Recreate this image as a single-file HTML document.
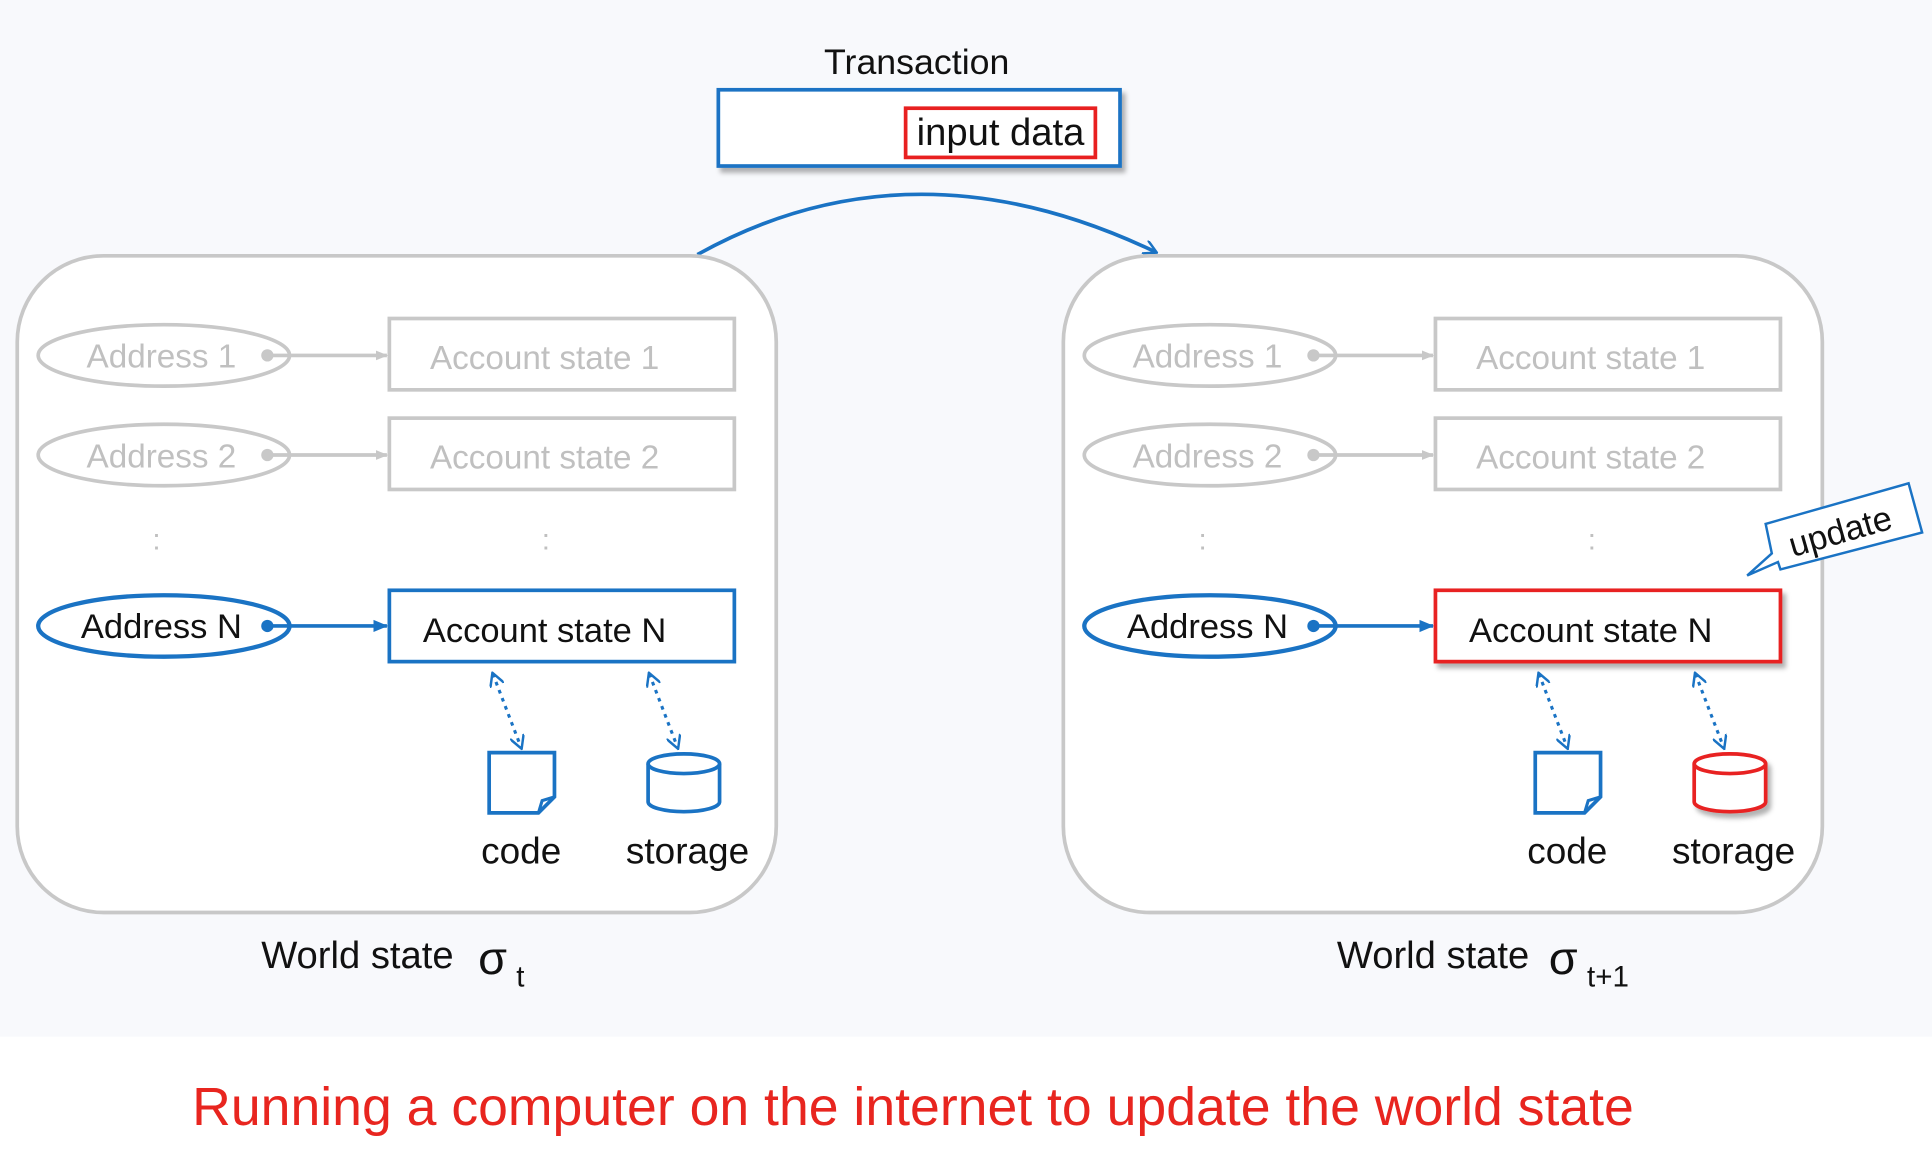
<!DOCTYPE html>
<html><head><meta charset="utf-8"><style>
html,body{margin:0;padding:0;background:#fff;}
svg{display:block;font-family:"Liberation Sans",Arial,sans-serif;}
</style></head><body>
<svg width="1932" height="1156" viewBox="0 0 1568 940" preserveAspectRatio="none" xmlns="http://www.w3.org/2000/svg">
<defs>
<marker id="ag" markerWidth="10" markerHeight="10" refX="9" refY="5" orient="auto" markerUnits="userSpaceOnUse"><path d="M0,1 L10,5 L0,9 z" fill="#c8c8c8"/></marker>
<marker id="ab" markerWidth="12" markerHeight="12" refX="11" refY="6" orient="auto" markerUnits="userSpaceOnUse"><path d="M0,1 L12,6 L0,11 z" fill="#1a73c4"/></marker>
<marker id="ad" markerWidth="12" markerHeight="12" refX="10" refY="6" orient="auto" markerUnits="userSpaceOnUse"><path d="M0,0 L11,6 L0,12" fill="none" stroke="#1a73c4" stroke-width="2"/></marker>
<marker id="ad0" markerWidth="12" markerHeight="12" refX="10" refY="6" orient="auto-start-reverse" markerUnits="userSpaceOnUse"><path d="M0,0 L11,6 L0,12" fill="none" stroke="#1a73c4" stroke-width="2"/></marker>
<filter id="sh" x="-10%" y="-10%" width="130%" height="140%"><feDropShadow dx="3" dy="4" stdDeviation="2" flood-color="#000" flood-opacity="0.3"/></filter>
</defs>
<rect x="0" y="0" width="1568" height="843" fill="#f8f9fc"/>
<text x="744" y="60" font-size="29" text-anchor="middle" fill="#111">Transaction</text>
<rect x="583" y="73" width="326" height="62" fill="#fff" stroke="#1a73c4" stroke-width="3" filter="url(#sh)"/>
<rect x="735" y="88" width="154" height="40" fill="#fff" stroke="#e82020" stroke-width="3"/>
<text x="812" y="118" font-size="31" text-anchor="middle" fill="#111">input data</text>
<path d="M566,207 Q740,110 938,205" fill="none" stroke="#1a73c4" stroke-width="3" marker-end="url(#ad)"/>

<g id="panel">
<rect x="14" y="208" width="616" height="534" rx="70" fill="#fff" stroke="#c8c8c8" stroke-width="3"/>
<ellipse cx="133" cy="289" rx="102" ry="25" fill="#fff" stroke="#c8c8c8" stroke-width="3"/>
<text x="131" y="299" font-size="27" text-anchor="middle" fill="#c0c0c0">Address 1</text>
<circle cx="217" cy="289" r="5" fill="#c8c8c8"/>
<line x1="217" y1="289" x2="314" y2="289" stroke="#c8c8c8" stroke-width="3" marker-end="url(#ag)"/>
<rect x="316" y="259" width="280" height="58" fill="#fff" stroke="#c8c8c8" stroke-width="3"/>
<text x="442" y="300" font-size="27" text-anchor="middle" fill="#c0c0c0">Account state 1</text>
<ellipse cx="133" cy="370" rx="102" ry="25" fill="#fff" stroke="#c8c8c8" stroke-width="3"/>
<text x="131" y="380" font-size="27" text-anchor="middle" fill="#c0c0c0">Address 2</text>
<circle cx="217" cy="370" r="5" fill="#c8c8c8"/>
<line x1="217" y1="370" x2="314" y2="370" stroke="#c8c8c8" stroke-width="3" marker-end="url(#ag)"/>
<rect x="316" y="340" width="280" height="58" fill="#fff" stroke="#c8c8c8" stroke-width="3"/>
<text x="442" y="381" font-size="27" text-anchor="middle" fill="#c0c0c0">Account state 2</text>
<text x="127" y="447" font-size="24" text-anchor="middle" fill="#c0c0c0">:</text>
<text x="443" y="447" font-size="24" text-anchor="middle" fill="#c0c0c0">:</text>
<ellipse cx="133" cy="509" rx="102" ry="25" fill="#fff" stroke="#1a73c4" stroke-width="3.5"/>
<text x="131" y="519" font-size="28" text-anchor="middle" fill="#111">Address N</text>
<circle cx="217" cy="509" r="5" fill="#1a73c4"/>
<line x1="217" y1="509" x2="314" y2="509" stroke="#1a73c4" stroke-width="3" marker-end="url(#ab)"/>
</g>
<rect x="316" y="480" width="280" height="58" fill="#fff" stroke="#1a73c4" stroke-width="3"/>
<text x="442" y="522" font-size="28" text-anchor="middle" fill="#111">Account state N</text>
<g id="codestor">
<line x1="400" y1="548" x2="423" y2="608" stroke="#1a73c4" stroke-width="2.5" stroke-dasharray="3,4" marker-start="url(#ad0)" marker-end="url(#ad)"/>
<line x1="527" y1="548" x2="550" y2="608" stroke="#1a73c4" stroke-width="2.5" stroke-dasharray="3,4" marker-start="url(#ad0)" marker-end="url(#ad)"/>
<path d="M397,612 L450,612 L450,648 L437,661 L397,661 Z" fill="#fff" stroke="#1a73c4" stroke-width="3"/>
<path d="M437,661 L440,651 L450,648" fill="none" stroke="#1a73c4" stroke-width="2.5"/>
<text x="423" y="702" font-size="30" text-anchor="middle" fill="#111">code</text>
<text x="558" y="702" font-size="30" text-anchor="middle" fill="#111">storage</text>
</g>
<path d="M526,621 L526,652 A29,8 0 0 0 584,652 L584,621" fill="#fff" stroke="#1a73c4" stroke-width="3"/>
<ellipse cx="555" cy="621" rx="29" ry="8" fill="#fff" stroke="#1a73c4" stroke-width="3"/>

<use href="#panel" x="849"/>
<rect x="1165" y="480" width="280" height="58" fill="#fff" stroke="#e82020" stroke-width="3" filter="url(#sh)"/>
<text x="1291" y="522" font-size="28" text-anchor="middle" fill="#111">Account state N</text>
<use href="#codestor" x="849"/>
<g filter="url(#sh)">
<path d="M1375,621 L1375,652 A29,8 0 0 0 1433,652 L1433,621" fill="#fff" stroke="#e82020" stroke-width="3"/>
<ellipse cx="1404" cy="621" rx="29" ry="8" fill="#fff" stroke="#e82020" stroke-width="3"/>
</g>
<path d="M1433,426 L1549,393 L1560,433 L1445,463 L1443,457 L1418,468 L1438,450 Z" fill="#fff" stroke="#1a73c4" stroke-width="2"/>
<text x="0" y="0" font-size="28" fill="#111" transform="translate(1455,453) rotate(-16)">update</text>

<text x="212" y="787" font-size="31" fill="#111">World state</text>
<text x="388" y="792" font-size="38" fill="#111">σ</text>
<text x="419" y="802" font-size="24" fill="#111">t</text>
<text x="1085" y="787" font-size="31" fill="#111">World state</text>
<text x="1257" y="792" font-size="38" fill="#111">σ</text>
<text x="1288" y="802" font-size="24" fill="#111">t+1</text>

<text x="741" y="915" font-size="43.5" text-anchor="middle" fill="#e8251f">Running a computer on the internet to update the world state</text>
</svg>
</body></html>
